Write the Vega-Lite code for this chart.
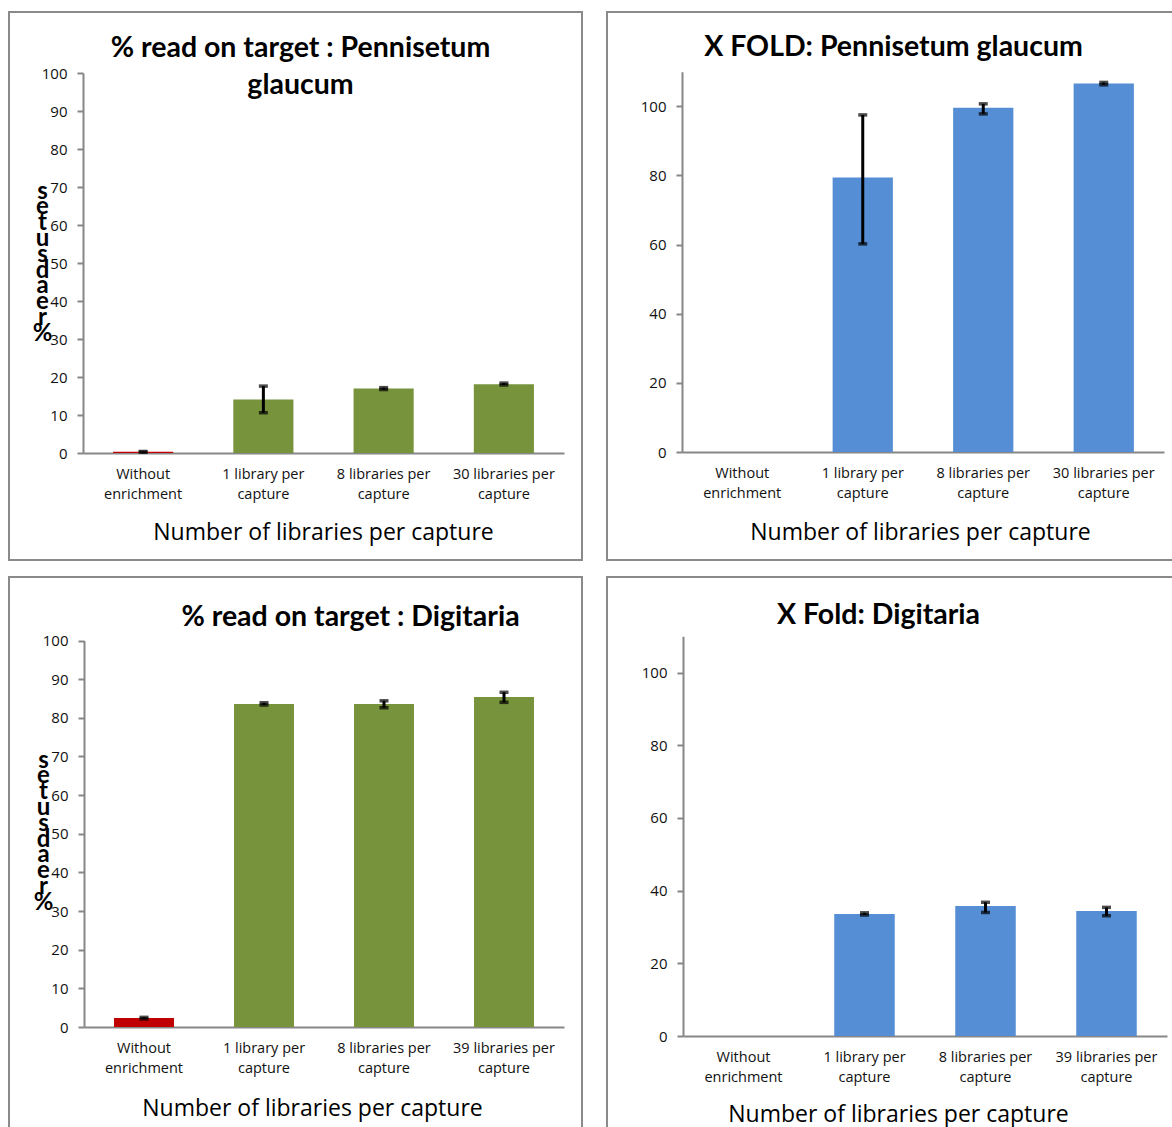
{
  "$schema": "https://vega.github.io/schema/vega-lite/v6.json",
  "padding": {"left": 8, "top": 11, "right": 0, "bottom": 0},
  "background": "white",
  "datasets": {
    "pg_pct": [
      {"capture": "Without enrichment", "enriched": "no", "pct": 0.3, "lo": 0.2, "hi": 0.4},
      {"capture": "1 library per capture", "enriched": "yes", "pct": 14.1, "lo": 10.6, "hi": 17.6},
      {"capture": "8 libraries per capture", "enriched": "yes", "pct": 17.0, "lo": 16.7, "hi": 17.2},
      {"capture": "30 libraries per capture", "enriched": "yes", "pct": 18.1, "lo": 17.9, "hi": 18.4}
    ],
    "pg_fold": [
      {"capture": "1 library per capture", "fold": 79.4, "lo": 60.2, "hi": 97.5},
      {"capture": "8 libraries per capture", "fold": 99.6, "lo": 97.8, "hi": 100.7},
      {"capture": "30 libraries per capture", "fold": 106.6, "lo": 106.2, "hi": 106.9}
    ],
    "dig_pct": [
      {"capture": "Without enrichment", "enriched": "no", "pct": 2.3, "lo": 2.1, "hi": 2.5},
      {"capture": "1 library per capture", "enriched": "yes", "pct": 83.6, "lo": 83.3, "hi": 83.9},
      {"capture": "8 libraries per capture", "enriched": "yes", "pct": 83.6, "lo": 82.6, "hi": 84.4},
      {"capture": "39 libraries per capture", "enriched": "yes", "pct": 85.4, "lo": 84.0, "hi": 86.6}
    ],
    "dig_fold": [
      {"capture": "1 library per capture", "fold": 33.6, "lo": 33.3, "hi": 33.9},
      {"capture": "8 libraries per capture", "fold": 35.8, "lo": 34.0, "hi": 36.8},
      {"capture": "39 libraries per capture", "fold": 34.4, "lo": 33.1, "hi": 35.4}
    ]
  },
  "vconcat": [
    {
      "hconcat": [
        {
          "width": 573,
          "height": 548,
          "data": {"name": "pg_pct"},
          "title": {"text": ["% read on target : Pennisetum", "glaucum"], "offset": -87, "dx": 5},
          "encoding": {
            "x": {
              "field": "capture", "type": "nominal", "sort": null,
              "scale": {"domain": ["Without enrichment", "1 library per capture", "8 libraries per capture", "30 libraries per capture"], "range": [74, 555], "paddingInner": 0.5, "paddingOuter": 0.25},
              "axis": {"title": "Number of libraries per capture", "offset": -107, "titleX": 314, "titleY": 86}
            }
          },
          "layer": [
            {
              "mark": {"type": "bar"},
              "encoding": {
                "y": {"field": "pct", "type": "quantitative", "scale": {"domain": [0, 100], "range": [441, 61]},
                  "axis": {"values": [0, 10, 20, 30, 40, 50, 60, 70, 80, 90, 100], "offset": -74, "title": ["s", "e", "t", "u", "s", "d", "a", "e", "r", "%"], "titleX": -41, "titleY": 186}},
                "color": {"field": "enriched", "type": "nominal", "scale": {"domain": ["no", "yes"], "range": ["#C00000", "#77933C"]}, "legend": null}
              }
            },
            {"mark": {"type": "rule", "color": "black", "strokeWidth": 3}, "encoding": {"y": {"field": "lo", "type": "quantitative",
              "axis": {"values": [0, 10, 20, 30, 40, 50, 60, 70, 80, 90, 100], "offset": -74, "title": ["s", "e", "t", "u", "s", "d", "a", "e", "r", "%"], "titleX": -41, "titleY": 186}}, "y2": {"field": "hi"}}},
            {"mark": {"type": "tick", "color": "black", "size": 9, "thickness": 3.5}, "encoding": {"y": {"field": "lo", "type": "quantitative",
              "axis": {"values": [0, 10, 20, 30, 40, 50, 60, 70, 80, 90, 100], "offset": -74, "title": ["s", "e", "t", "u", "s", "d", "a", "e", "r", "%"], "titleX": -41, "titleY": 186}}}},
            {"mark": {"type": "tick", "color": "black", "size": 9, "thickness": 3.5}, "encoding": {"y": {"field": "hi", "type": "quantitative",
              "axis": {"values": [0, 10, 20, 30, 40, 50, 60, 70, 80, 90, 100], "offset": -74, "title": ["s", "e", "t", "u", "s", "d", "a", "e", "r", "%"], "titleX": -41, "titleY": 186}}}}
          ]
        },
        {
          "width": 567,
          "height": 548,
          "data": {"name": "pg_fold"},
          "title": {"text": "X FOLD: Pennisetum glaucum", "offset": -49, "dx": 3},
          "encoding": {
            "x": {
              "field": "capture", "type": "nominal", "sort": null,
              "scale": {"domain": ["Without enrichment", "1 library per capture", "8 libraries per capture", "30 libraries per capture"], "range": [75, 557], "paddingInner": 0.5, "paddingOuter": 0.25},
              "axis": {"title": "Number of libraries per capture", "offset": -108, "titleX": 313, "titleY": 87}
            }
          },
          "layer": [
            {
              "mark": {"type": "bar", "color": "#558ED5"},
              "encoding": {
                "y": {"field": "fold", "type": "quantitative", "scale": {"domain": [0, 110], "range": [440, 59.7]},
                  "axis": {"values": [0, 20, 40, 60, 80, 100], "offset": -75, "title": null}}
              }
            },
            {"mark": {"type": "rule", "color": "black", "strokeWidth": 3}, "encoding": {"y": {"field": "lo", "type": "quantitative", "axis": {"values": [0, 20, 40, 60, 80, 100], "offset": -75, "title": null}}, "y2": {"field": "hi"}}},
            {"mark": {"type": "tick", "color": "black", "size": 9, "thickness": 3.5}, "encoding": {"y": {"field": "lo", "type": "quantitative", "axis": {"values": [0, 20, 40, 60, 80, 100], "offset": -75, "title": null}}}},
            {"mark": {"type": "tick", "color": "black", "size": 9, "thickness": 3.5}, "encoding": {"y": {"field": "hi", "type": "quantitative", "axis": {"values": [0, 20, 40, 60, 80, 100], "offset": -75, "title": null}}}}
          ]
        }
      ]
    },
    {
      "hconcat": [
        {
          "width": 573,
          "height": 552,
          "data": {"name": "dig_pct"},
          "title": {"text": "% read on target : Digitaria", "offset": -54, "dx": 55},
          "encoding": {
            "x": {
              "field": "capture", "type": "nominal", "sort": null,
              "scale": {"domain": ["Without enrichment", "1 library per capture", "8 libraries per capture", "39 libraries per capture"], "range": [75, 555], "paddingInner": 0.5, "paddingOuter": 0.25},
              "axis": {"title": "Number of libraries per capture", "offset": -102, "titleX": 303, "titleY": 88}
            }
          },
          "layer": [
            {
              "mark": {"type": "bar"},
              "encoding": {
                "y": {"field": "pct", "type": "quantitative", "scale": {"domain": [0, 100], "range": [450, 63.5]},
                  "axis": {"values": [0, 10, 20, 30, 40, 50, 60, 70, 80, 90, 100], "offset": -75, "title": ["s", "e", "t", "u", "s", "d", "a", "e", "r", "%"], "titleX": -41, "titleY": 190}},
                "color": {"field": "enriched", "type": "nominal", "scale": {"domain": ["no", "yes"], "range": ["#C00000", "#77933C"]}, "legend": null}
              }
            },
            {"mark": {"type": "rule", "color": "black", "strokeWidth": 3}, "encoding": {"y": {"field": "lo", "type": "quantitative",
              "axis": {"values": [0, 10, 20, 30, 40, 50, 60, 70, 80, 90, 100], "offset": -75, "title": ["s", "e", "t", "u", "s", "d", "a", "e", "r", "%"], "titleX": -41, "titleY": 190}}, "y2": {"field": "hi"}}},
            {"mark": {"type": "tick", "color": "black", "size": 9, "thickness": 3.5}, "encoding": {"y": {"field": "lo", "type": "quantitative",
              "axis": {"values": [0, 10, 20, 30, 40, 50, 60, 70, 80, 90, 100], "offset": -75, "title": ["s", "e", "t", "u", "s", "d", "a", "e", "r", "%"], "titleX": -41, "titleY": 190}}}},
            {"mark": {"type": "tick", "color": "black", "size": 9, "thickness": 3.5}, "encoding": {"y": {"field": "hi", "type": "quantitative",
              "axis": {"values": [0, 10, 20, 30, 40, 50, 60, 70, 80, 90, 100], "offset": -75, "title": ["s", "e", "t", "u", "s", "d", "a", "e", "r", "%"], "titleX": -41, "titleY": 190}}}}
          ]
        },
        {
          "width": 567,
          "height": 552,
          "data": {"name": "dig_fold"},
          "title": {"text": "X Fold: Digitaria", "offset": -52, "dx": -12},
          "encoding": {
            "x": {
              "field": "capture", "type": "nominal", "sort": null,
              "scale": {"domain": ["Without enrichment", "1 library per capture", "8 libraries per capture", "39 libraries per capture"], "range": [76, 560], "paddingInner": 0.5, "paddingOuter": 0.25},
              "axis": {"title": "Number of libraries per capture", "offset": -93, "titleX": 291, "titleY": 85}
            }
          },
          "layer": [
            {
              "mark": {"type": "bar", "color": "#558ED5"},
              "encoding": {
                "y": {"field": "fold", "type": "quantitative", "scale": {"domain": [0, 110], "range": [459, 59.3]},
                  "axis": {"values": [0, 20, 40, 60, 80, 100], "offset": -76, "title": null}}
              }
            },
            {"mark": {"type": "rule", "color": "black", "strokeWidth": 3}, "encoding": {"y": {"field": "lo", "type": "quantitative", "axis": {"values": [0, 20, 40, 60, 80, 100], "offset": -76, "title": null}}, "y2": {"field": "hi"}}},
            {"mark": {"type": "tick", "color": "black", "size": 9, "thickness": 3.5}, "encoding": {"y": {"field": "lo", "type": "quantitative", "axis": {"values": [0, 20, 40, 60, 80, 100], "offset": -76, "title": null}}}},
            {"mark": {"type": "tick", "color": "black", "size": 9, "thickness": 3.5}, "encoding": {"y": {"field": "hi", "type": "quantitative", "axis": {"values": [0, 20, 40, 60, 80, 100], "offset": -76, "title": null}}}}
          ]
        }
      ],
      "spacing": 23
    }
  ],
  "spacing": 15,
  "config": {
    "font": "Open Sans",
    "view": {"stroke": "#8a8a8a", "strokeWidth": 2},
    "concat": {"spacing": 23},
    "title": {"font": "Lato", "fontSize": 28.5, "fontWeight": "bold", "color": "#000000", "anchor": "middle", "frame": "group", "baseline": "top", "lineHeight": 37},
    "axis": {
      "grid": false,
      "domainColor": "#878787", "domainWidth": 2,
      "tickColor": "#878787", "tickWidth": 2, "tickSize": 6,
      "labelFont": "Open Sans", "labelColor": "#111111",
      "titleFont": "Open Sans", "titleColor": "#000000"
    },
    "axisX": {
      "ticks": false, "labelAngle": 0, "labelFontSize": 14.5, "labelPadding": 14, "labelLineHeight": 20, "labelBaseline": "top",
      "labelExpr": "datum.value == 'Without enrichment' ? ['Without', 'enrichment'] : [replace(datum.value, ' capture', ''), 'capture']",
      "titleFontSize": 23, "titleFontWeight": "normal", "titleBaseline": "alphabetic", "titleAlign": "center", "zindex": 1
    },
    "axisY": {
      "labelFontSize": 15, "labelPadding": 10,
      "titleFont": "Lato", "titleAngle": 0, "titleFontSize": 24, "titleFontWeight": "bold", "titleLineHeight": 15.8, "titleAlign": "center", "titleBaseline": "alphabetic"
    }
  }
}
